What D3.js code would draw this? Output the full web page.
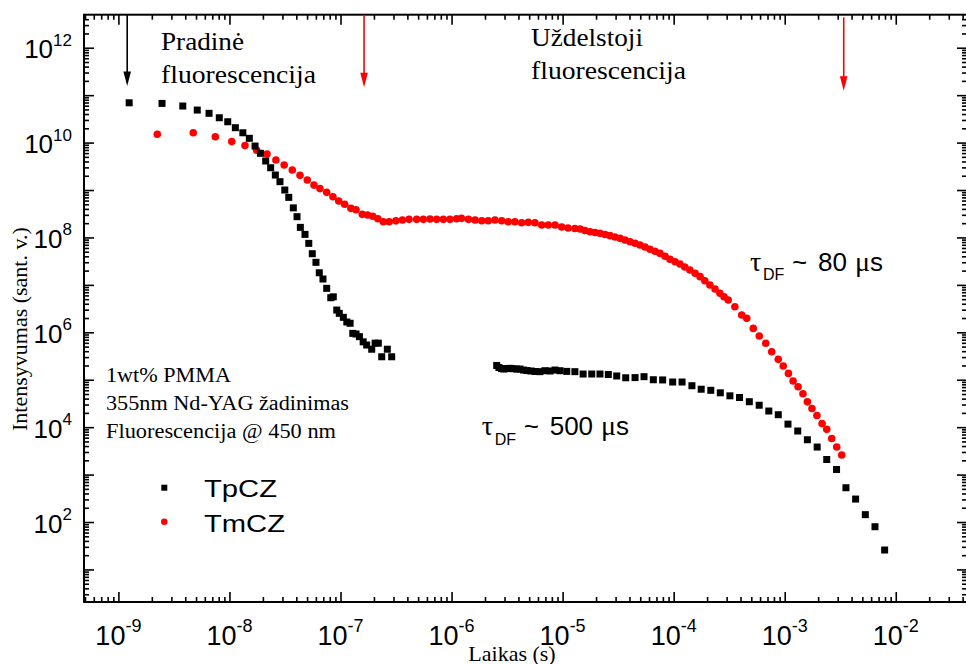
<!DOCTYPE html>
<html>
<head>
<meta charset="utf-8">
<script src="https://cdn.jsdelivr.net/npm/d3@7"></script>
<style>
  body { margin: 0; background: #fff; }
  svg { display: block; }
</style>
</head>
<body>
<div id="chart"></div>
<script>
// TpCZ (black squares): prompt part, then the delayed part after the gap
const tpczTime = [
  1.25e-9, 2.47e-9, 3.8e-9, 5.13e-9, 6.55e-9, 8.1e-9, 9.65e-9, 1.13e-8, 1.32e-8, 1.51e-8,
  1.7e-8, 1.9e-8, 2.12e-8, 2.35e-8, 2.59e-8, 2.85e-8, 3.15e-8, 3.42e-8, 3.76e-8, 4.06e-8,
  4.35e-8, 4.79e-8, 5.18e-8, 5.57e-8, 6.01e-8, 6.44e-8, 6.95e-8, 7.51e-8, 8.17e-8, 8.61e-8,
  9.25e-8, 9.75e-8, 1.06e-7, 1.14e-7, 1.22e-7, 1.29e-7, 1.38e-7, 1.48e-7, 1.6e-7, 1.72e-7,
  1.91e-7, 2.05e-7, 2.19e-7, 2.35e-7, 2.64e-7, 2.89e-7,
  2.55e-6, 2.67e-6, 2.82e-6, 2.96e-6, 3.16e-6, 3.36e-6, 3.57e-6, 3.86e-6, 4.13e-6, 4.45e-6,
  4.77e-6, 5.19e-6, 5.64e-6, 6.25e-6, 6.93e-6, 7.71e-6, 8.55e-6, 9.48e-6, 1.09e-5, 1.29e-5,
  1.53e-5, 1.83e-5, 2.17e-5, 2.58e-5, 3.07e-5, 3.7e-5, 4.49e-5, 5.41e-5, 6.56e-5, 7.96e-5,
  9.8e-5, 1.19e-4, 1.46e-4, 1.77e-4, 2.16e-4, 2.63e-4, 3.21e-4, 3.92e-4, 4.8e-4, 5.89e-4,
  7.19e-4, 8.75e-4, 1.07e-3, 1.31e-3, 1.6e-3, 1.96e-3, 2.39e-3, 2.93e-3, 3.56e-3, 4.35e-3,
  5.32e-3, 6.5e-3, 7.94e-3
];
const tpczInt = [
  6.9e10, 6.7e10, 5.9e10, 4.85e10, 4.14e10, 3.34e10, 2.75e10, 2.06e10, 1.61e10, 1.23e10,
  8.45e9, 5.94e9, 4.09e9, 2.95e9, 2.07e9, 1.5e9, 1.0e9, 7.0e8, 4.2e8, 2.74e8,
  1.63e8, 1.16e8, 7.5e7, 4.54e7, 2.99e7, 1.8e7, 1.33e7, 8.45e6, 5.36e6, 5.6e6,
  2.95e6, 2.51e6, 2.07e6, 1.65e6, 1.55e6, 9.5e5, 9.2e5, 8.1e5, 6.3e5, 5.4e5,
  4.4e5, 5.9e5, 5.9e5, 3.05e5, 4.4e5, 3.05e5,
  2.0e5, 1.81e5, 1.72e5, 1.68e5, 1.72e5, 1.74e5, 1.71e5, 1.68e5, 1.68e5, 1.6e5,
  1.56e5, 1.53e5, 1.49e5, 1.48e5, 1.55e5, 1.53e5, 1.6e5, 1.55e5, 1.5e5, 1.48e5,
  1.32e5, 1.32e5, 1.32e5, 1.29e5, 1.2e5, 1.1e5, 1.11e5, 1.16e5, 1.0e5, 9.9e4,
  8.95e4, 8.95e4, 7.48e4, 6.31e4, 5.98e4, 5.3e4, 4.58e4, 4.22e4, 3.44e4, 2.9e4,
  2.19e4, 1.83e4, 1.16e4, 8.3e3, 5.43e3, 3.81e3, 2.08e3, 1.28e3, 528, 305,
  143, 79.6, 25.7
];

// TmCZ (red circles)
const tmczTime = [
  2.24e-9, 4.72e-9, 7.46e-9, 1.05e-8, 1.38e-8, 1.76e-8, 2.18e-8, 2.62e-8, 3.11e-8, 3.68e-8,
  4.32e-8, 5.02e-8, 5.77e-8, 6.53e-8, 7.51e-8, 8.55e-8, 9.64e-8, 1.09e-7, 1.24e-7, 1.38e-7,
  1.57e-7, 1.75e-7, 1.95e-7, 2.17e-7, 2.43e-7, 2.74e-7, 3.15e-7, 3.61e-7, 4.14e-7, 4.85e-7,
  5.57e-7, 6.4e-7, 7.34e-7, 8.43e-7, 9.68e-7, 1.11e-6, 1.23e-6, 1.42e-6, 1.63e-6, 1.87e-6,
  2.14e-6, 2.46e-6, 2.83e-6, 3.24e-6, 3.72e-6, 4.28e-6, 4.91e-6, 5.64e-6, 6.49e-6, 7.43e-6,
  8.55e-6, 9.82e-6, 1.12e-5, 1.29e-5, 1.44e-5, 1.59e-5, 1.77e-5, 1.96e-5, 2.17e-5, 2.41e-5,
  2.67e-5, 2.96e-5, 3.29e-5, 3.65e-5, 4.05e-5, 4.49e-5, 4.98e-5, 5.52e-5, 6.12e-5, 6.79e-5,
  7.53e-5, 8.36e-5, 9.27e-5, 1.03e-4, 1.14e-4, 1.26e-4, 1.4e-4, 1.56e-4, 1.73e-4, 1.91e-4,
  2.12e-4, 2.36e-4, 2.61e-4, 2.84e-4, 3.1e-4, 3.56e-4, 4.1e-4, 4.55e-4, 5.21e-4, 5.9e-4,
  6.75e-4, 7.64e-4, 8.75e-4, 9.7e-4, 1.08e-3, 1.19e-3, 1.32e-3, 1.46e-3, 1.6e-3, 1.76e-3,
  1.95e-3, 2.17e-3, 2.39e-3, 2.65e-3, 2.94e-3, 3.26e-3
];
const tmczInt = [
  1.5e10, 1.61e10, 1.33e10, 1.05e10, 8.67e9, 6.87e9, 5.74e9, 4.29e9, 3.37e9, 2.64e9,
  2.04e9, 1.63e9, 1.27e9, 1.07e9, 8.93e8, 7.22e8, 5.86e8, 5.01e8, 4.11e8, 3.84e8,
  3.07e8, 2.97e8, 2.79e8, 2.47e8, 2.14e8, 2.14e8, 2.24e8, 2.33e8, 2.41e8, 2.41e8,
  2.41e8, 2.44e8, 2.41e8, 2.41e8, 2.41e8, 2.48e8, 2.53e8, 2.41e8, 2.33e8, 2.25e8,
  2.25e8, 2.33e8, 2.25e8, 2.14e8, 2.14e8, 2.04e8, 2.08e8, 2.04e8, 1.83e8, 1.83e8,
  1.83e8, 1.66e8, 1.58e8, 1.54e8, 1.51e8, 1.4e8, 1.32e8, 1.27e8, 1.22e8, 1.15e8,
  1.09e8, 1.02e8, 9.57e7, 8.83e7, 8.13e7, 7.52e7, 6.92e7, 6.28e7, 5.62e7, 5.1e7,
  4.62e7, 4.0e7, 3.46e7, 3.08e7, 2.75e7, 2.38e7, 2.06e7, 1.75e7, 1.49e7, 1.22e7,
  9.93e6, 8.18e6, 6.64e6, 5.62e6, 4.8e6, 3.46e6, 2.31e6, 1.97e6, 1.21e6, 8.36e5,
  5.86e5, 3.9e5, 2.69e5, 1.95e5, 1.36e5, 9.4e4, 7.13e4, 5.07e4, 3.42e4, 2.47e4,
  1.76e4, 1.19e4, 9.0e3, 5.75e3, 3.81e3, 2.59e3
];

// tick labels (powers of ten)
const xLabelExps = [-9, -8, -7, -6, -5, -4, -3, -2];
const yLabelExps = [12, 10, 8, 6, 4, 2];
// excitation / delayed-emission markers (time in s)
const arrowTimes = [1.2e-9, 1.63e-7, 3.4e-3];
const arrowColors = ["#000", "#ff0000", "#ff0000"];

const W = 966, H = 664;
const box = { left: 84, right: 967, top: 14.7, bottom: 602 };
const sans = "'Liberation Sans', Arial, sans-serif";
const serif = "'Liberation Serif', 'Times New Roman', serif";

const x = d3.scaleLog().domain([4.9e-10, 4.38e-2]).range([box.left, box.right]);
const y = d3.scaleLog().domain([2.06, 4.97e12]).range([box.bottom, box.top]);

const svg = d3.select("#chart").append("svg")
  .attr("width", W)
  .attr("height", H);

// major = every decade, minor = 2..9 x decade
function logTicks(scale) {
  const [a, b] = scale.domain();
  const major = [], minor = [];
  for (let e = Math.floor(Math.log10(a)); e <= Math.ceil(Math.log10(b)); e++) {
    for (let m = 1; m <= 9; m++) {
      const v = m * Math.pow(10, e);
      if (v < a || v > b) continue;
      (m === 1 ? major : minor).push(v);
    }
  }
  return { major, minor };
}
const xt = logTicks(x), yt = logTicks(y);

function drawAxis(axisFn, scale, values, size, transform) {
  svg.append("g")
    .attr("transform", transform)
    .call(axisFn(scale).tickValues(values).tickSizeInner(size).tickSizeOuter(0).tickFormat(""))
    .call(g => g.select(".domain").remove())
    .call(g => g.selectAll(".tick line").attr("stroke", "#000").attr("stroke-width", 1.6));
}

// ticks point inward on all four sides
drawAxis(d3.axisBottom, x, xt.major, -10, `translate(0,${box.bottom})`);
drawAxis(d3.axisBottom, x, xt.minor, -5, `translate(0,${box.bottom})`);
drawAxis(d3.axisTop, x, xt.major, -10, `translate(0,${box.top})`);
drawAxis(d3.axisTop, x, xt.minor, -5, `translate(0,${box.top})`);
drawAxis(d3.axisLeft, y, yt.major, -10, `translate(${box.left},0)`);
drawAxis(d3.axisLeft, y, yt.minor, -5, `translate(${box.left},0)`);
drawAxis(d3.axisRight, y, yt.major, -10, `translate(${box.right},0)`);
drawAxis(d3.axisRight, y, yt.minor, -5, `translate(${box.right},0)`);

svg.append("rect")
  .attr("x", box.left).attr("y", box.top)
  .attr("width", box.right - box.left).attr("height", box.bottom - box.top)
  .attr("fill", "none").attr("stroke", "#000").attr("stroke-width", 2);

// tick labels: 10 with superscript exponent
const xLab = svg.append("g").attr("font-family", sans).attr("fill", "#000");
xLabelExps.forEach(e => {
  const t = xLab.append("text")
    .attr("x", x(Math.pow(10, e))).attr("y", 645)
    .attr("text-anchor", "middle");
  t.append("tspan").attr("font-size", 27).text("10");
  t.append("tspan").attr("font-size", 18).attr("dy", -13).text(e);
});
const yLab = svg.append("g").attr("font-family", sans).attr("fill", "#000");
yLabelExps.forEach(e => {
  const t = yLab.append("text")
    .attr("x", 72).attr("y", y(Math.pow(10, e)) + 10.5)
    .attr("text-anchor", "end");
  t.append("tspan").attr("font-size", 26).text("10");
  t.append("tspan").attr("font-size", 17).attr("dy", -12.5).text(e);
});

// axis titles
svg.append("text")
  .attr("transform", "translate(27,431) rotate(-90)")
  .attr("font-family", serif).attr("font-size", 22)
  .text("Intensyvumas (sant. v.)");
svg.append("text")
  .attr("x", 512).attr("y", 661)
  .attr("text-anchor", "middle")
  .attr("font-family", serif).attr("font-size", 22)
  .text("Laikas (s)");

// data
const tmcz = tmczTime.map((t, i) => ({ t, v: tmczInt[i] }));
const tpcz = tpczTime.map((t, i) => ({ t, v: tpczInt[i] }));

svg.append("g").selectAll("circle")
  .data(tmcz).enter().append("circle")
  .attr("cx", d => x(d.t)).attr("cy", d => y(d.v))
  .attr("r", 3.8).attr("fill", "#ff0000");

const sq = 7;
svg.append("g").selectAll("rect")
  .data(tpcz).enter().append("rect")
  .attr("x", d => x(d.t) - sq / 2).attr("y", d => y(d.v) - sq / 2)
  .attr("width", sq).attr("height", sq).attr("fill", "#000");

// arrows from the top frame
const arrowSpans = [[box.top, 86], [box.top, 87.3], [17.3, 90.7]];
arrowTimes.forEach((t, i) => {
  const ax = x(t), [y0, y1] = arrowSpans[i], c = arrowColors[i];
  svg.append("line")
    .attr("x1", ax).attr("x2", ax).attr("y1", y0).attr("y2", y1 - 10)
    .attr("stroke", c).attr("stroke-width", 1.6);
  svg.append("path")
    .attr("d", `M${ax - 3.8},${y1 - 14.5} L${ax + 3.8},${y1 - 14.5} L${ax},${y1} Z`)
    .attr("fill", c);
});

// annotations (the reference text is slightly widened, hence textLength)
const note = svg.append("g").attr("font-family", serif).attr("fill", "#000");
function noteText(tx, ty, size, len, str) {
  note.append("text").attr("x", tx).attr("y", ty).attr("font-size", size)
    .attr("textLength", len).attr("lengthAdjust", "spacingAndGlyphs").text(str);
}
noteText(161, 50, 25, 83, "Pradinė");
noteText(161, 82.7, 25, 155, "fluorescencija");
noteText(531, 46, 25, 112, "Uždelstoji");
noteText(531, 79, 25, 155, "fluorescencija");
noteText(106, 381.7, 20, 125, "1wt% PMMA");
noteText(106, 410, 20, 243, "355nm Nd-YAG žadinimas");
noteText(106, 438.3, 20, 230, "Fluorescencija @ 450 nm");

// lifetime labels
function tauLabel(lx, ly, value) {
  const t = svg.append("text").attr("y", ly).attr("font-family", sans).attr("font-size", 26);
  t.append("tspan").attr("x", lx).attr("font-family", serif).attr("font-size", 28).text("τ");
  t.append("tspan").attr("x", lx + 13).attr("font-size", 16).attr("dy", 9.5).text("DF");
  t.append("tspan").attr("x", lx + 42).attr("dy", -9.5).text("~");
  const num = t.append("tspan").attr("x", lx + 68).text(value);
  t.append("tspan").attr("dx", 8).attr("font-family", serif).attr("font-size", 28).text("μ");
  t.append("tspan").text("s");
}
tauLabel(750, 270.7, 80);
tauLabel(481.7, 435, 500);

// legend
const leg = svg.append("g");
leg.append("rect").attr("x", 164.3 - 3).attr("y", 487.7 - 3).attr("width", 6).attr("height", 6).attr("fill", "#000");
leg.append("circle").attr("cx", 164.3).attr("cy", 521.7).attr("r", 3.3).attr("fill", "#ff0000");
leg.append("text").attr("x", 204).attr("y", 496.7).attr("font-family", sans).attr("font-size", 24)
  .attr("textLength", 73).attr("lengthAdjust", "spacingAndGlyphs").text("TpCZ");
leg.append("text").attr("x", 204).attr("y", 531.7).attr("font-family", sans).attr("font-size", 24)
  .attr("textLength", 81).attr("lengthAdjust", "spacingAndGlyphs").text("TmCZ");
</script>
</body>
</html>
